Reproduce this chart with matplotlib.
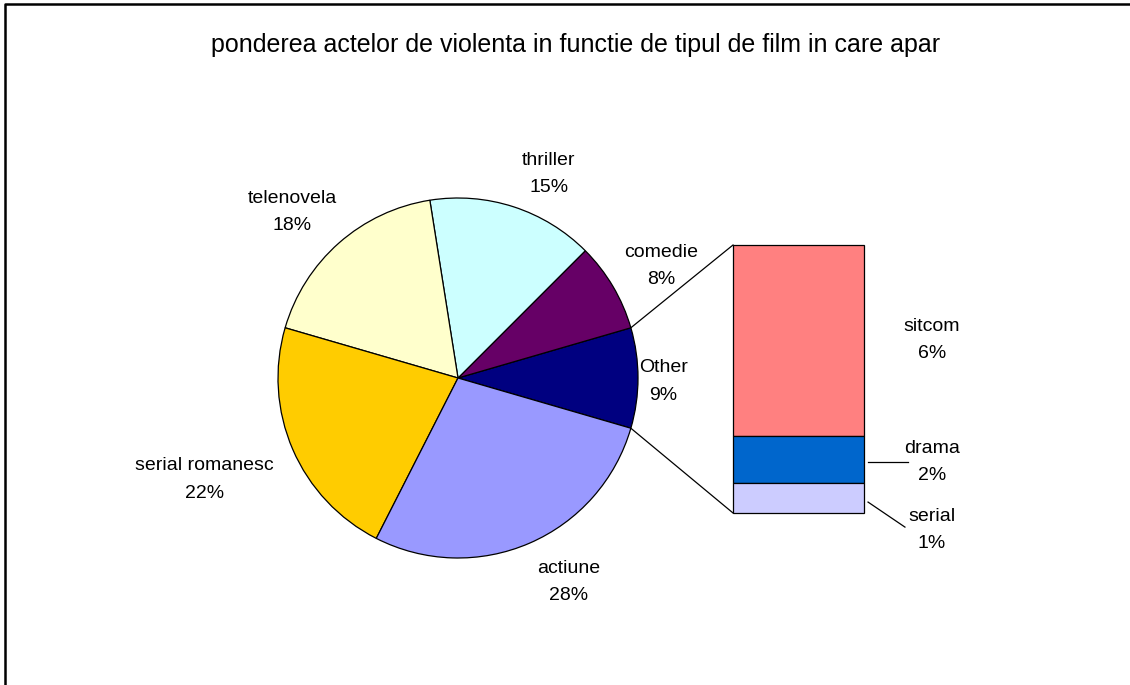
import numpy as np
import matplotlib
matplotlib.use("Agg")
import matplotlib.pyplot as plt
from matplotlib.patches import Rectangle
from matplotlib.lines import Line2D

# === data ===
TITLE = "ponderea actelor de violenta in functie de tipul de film in care apar"

pie_labels = ["Other", "comedie", "thriller", "telenovela", "serial romanesc", "actiune"]
pie_values = [None, 8, 15, 18, 22, 28]      # Other filled from bar parts
pie_colors = ["#000080", "#660066", "#CCFFFF", "#FFFFCC", "#FFCC00", "#9999FF"]

bar_labels = ["sitcom", "drama", "serial"]
bar_values = [6.4, 1.6, 1.0]
bar_colors = ["#FF8080", "#0066CC", "#CCCCFF"]

pie_values[0] = sum(bar_values)

# === layout (1 data unit = 180 px, pie centre at (458, 378) px) ===
W, H, DPI = 1130, 685, 100
PX = 180.0
CX, CY = 458.0, 378.0
FS = 14
FS_TITLE = 18
LS = 1.8
FONT = ["Liberation Sans", "DejaVu Sans"]

label_r = [1.14, 1.29, 1.24, 1.305, 1.517, 1.29]
label_dang = [-1.0, -1.7, -6.0, 3.6, -1.6, 5.0]

BAR_X0, BAR_W = 1.528, 0.728
BAR_TOP, BAR_H = 0.739, 1.489

plt.rcParams["font.family"] = FONT

fig = plt.figure(figsize=(W / DPI, H / DPI), dpi=DPI)
ax = fig.add_axes([0, 0, 1, 1])

total = sum(pie_values)
start = -pie_values[0] / total * 360 / 2
wedges, _ = ax.pie(pie_values, colors=pie_colors, startangle=start, counterclock=True,
                   radius=1.0, center=(0, 0), frame=True,
                   wedgeprops=dict(edgecolor="black", linewidth=0.9))
ax.set_xlim(-CX / PX, (W - CX) / PX)
ax.set_ylim(-(H - CY) / PX, CY / PX)
ax.set_aspect("equal")
ax.axis("off")

for w, lab, v, r, da in zip(wedges, pie_labels, pie_values, label_r, label_dang):
    mid = np.deg2rad((w.theta1 + w.theta2) / 2 + da)
    ax.text(r * np.cos(mid), r * np.sin(mid), f"{lab}\n{round(v / total * 100):.0f}%",
            ha="center", va="center", fontsize=FS, linespacing=LS)

# bar of the "Other" slice
scale = BAR_H / sum(bar_values)
y = BAR_TOP
mids = []
for lab, v, c in zip(bar_labels, bar_values, bar_colors):
    h = v * scale
    ax.add_patch(Rectangle((BAR_X0, y - h), BAR_W, h, facecolor=c,
                           edgecolor="black", linewidth=0.9))
    mids.append(y - h / 2)
    y -= h

# connectors from the Other slice edges to the bar corners
w0 = wedges[0]
a1, a2 = np.deg2rad(w0.theta2), np.deg2rad(w0.theta1)
ax.plot([np.cos(a1), BAR_X0], [np.sin(a1), BAR_TOP], color="black", lw=0.9)
ax.plot([np.cos(a2), BAR_X0], [np.sin(a2), BAR_TOP - BAR_H], color="black", lw=0.9)

# bar labels
lx = 2.633
ax.text(lx, mids[0], f"{bar_labels[0]}\n{round(bar_values[0] / total * 100):.0f}%",
        ha="center", va="center", fontsize=FS, linespacing=LS)
ax.text(lx, mids[1] - 0.015, f"{bar_labels[1]}\n{round(bar_values[1] / total * 100):.0f}%",
        ha="center", va="center", fontsize=FS, linespacing=LS)
ax.plot([2.278, 2.5], [mids[1] - 0.015, mids[1] - 0.015], color="black", lw=0.9)
ax.text(lx, mids[2] - 0.177, f"{bar_labels[2]}\n{round(bar_values[2] / total * 100):.0f}%",
        ha="center", va="center", fontsize=FS, linespacing=LS)
ax.plot([2.278, 2.483], [mids[2] - 0.022, mids[2] - 0.161], color="black", lw=0.9)

fig.text(576 / W, 1 - 45 / H, TITLE, ha="center", va="center", fontsize=FS_TITLE)

# chart frame (left and top edges visible)
fig.add_artist(Line2D([5 / W, 5 / W, 1.0], [0.0, 1 - 4 / H, 1 - 4 / H],
                      transform=fig.transFigure, color="black", lw=1.8))

fig.savefig("out.png", dpi=DPI)
